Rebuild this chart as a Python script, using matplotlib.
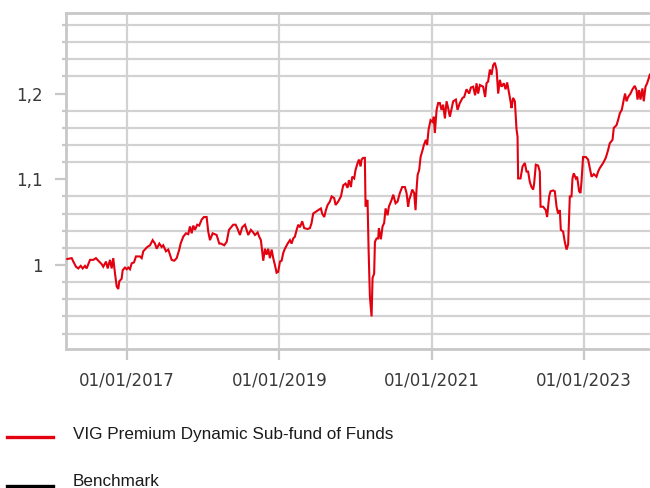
import matplotlib
matplotlib.use("Agg")
import matplotlib.pyplot as plt
from matplotlib.lines import Line2D
from matplotlib.ticker import MultipleLocator, FixedLocator, FuncFormatter
import numpy as np

# Time axis in decimal years, fund value (indexed)
years = [
    2016.217, 2016.275, 2016.296, 2016.331, 2016.361, 2016.393, 2016.419, 2016.449, 2016.471, 2016.515,
    2016.558, 2016.593, 2016.624, 2016.668, 2016.689, 2016.725, 2016.747, 2016.777, 2016.799, 2016.820,
    2016.843, 2016.865, 2016.886, 2016.899, 2016.930, 2016.944, 2016.974, 2016.996, 2017.017, 2017.039,
    2017.062, 2017.092, 2017.118, 2017.170, 2017.193, 2017.214, 2017.266, 2017.302, 2017.337, 2017.367,
    2017.390, 2017.424, 2017.455, 2017.476, 2017.511, 2017.542, 2017.586, 2017.620, 2017.652, 2017.686,
    2017.704, 2017.738, 2017.774, 2017.804, 2017.826, 2017.849, 2017.870, 2017.892, 2017.922, 2017.948,
    2017.980, 2018.010, 2018.045, 2018.066, 2018.089, 2018.124, 2018.176, 2018.211, 2018.233, 2018.276,
    2018.308, 2018.338, 2018.394, 2018.426, 2018.452, 2018.482, 2018.512, 2018.548, 2018.570, 2018.591,
    2018.626, 2018.656, 2018.679, 2018.714, 2018.735, 2018.757, 2018.788, 2018.810, 2018.832, 2018.853,
    2018.875, 2018.898, 2018.919, 2018.941, 2018.963, 2018.984, 2019.007, 2019.029, 2019.050, 2019.072,
    2019.108, 2019.138, 2019.160, 2019.181, 2019.203, 2019.226, 2019.247, 2019.269, 2019.299, 2019.325,
    2019.370, 2019.400, 2019.422, 2019.443, 2019.475, 2019.509, 2019.544, 2019.561, 2019.588, 2019.610,
    2019.632, 2019.662, 2019.685, 2019.719, 2019.737, 2019.771, 2019.807, 2019.837, 2019.868, 2019.894,
    2019.912, 2019.938, 2019.955, 2019.981, 2019.999, 2020.026, 2020.043, 2020.065, 2020.078, 2020.099,
    2020.121, 2020.130, 2020.156, 2020.170, 2020.187, 2020.209, 2020.222, 2020.243, 2020.253, 2020.275,
    2020.296, 2020.305, 2020.331, 2020.353, 2020.374, 2020.393, 2020.419, 2020.436, 2020.472, 2020.493,
    2020.524, 2020.550, 2020.580, 2020.611, 2020.646, 2020.668, 2020.689, 2020.702, 2020.725, 2020.742,
    2020.768, 2020.786, 2020.799, 2020.813, 2020.834, 2020.852, 2020.878, 2020.895, 2020.921, 2020.938,
    2020.957, 2020.983, 2021.009, 2021.026, 2021.039, 2021.062, 2021.083, 2021.105, 2021.127, 2021.148,
    2021.171, 2021.193, 2021.214, 2021.236, 2021.280, 2021.315, 2021.337, 2021.367, 2021.403, 2021.424,
    2021.455, 2021.489, 2021.512, 2021.542, 2021.568, 2021.586, 2021.607, 2021.630, 2021.673, 2021.699,
    2021.717, 2021.738, 2021.761, 2021.783, 2021.804, 2021.826, 2021.849, 2021.870, 2021.892, 2021.914,
    2021.944, 2021.967, 2021.988, 2022.014, 2022.032, 2022.045, 2022.066, 2022.089, 2022.111, 2022.124,
    2022.132, 2022.163, 2022.190, 2022.220, 2022.242, 2022.263, 2022.285, 2022.307, 2022.329, 2022.342,
    2022.364, 2022.394, 2022.416, 2022.426, 2022.460, 2022.495, 2022.512, 2022.539, 2022.557, 2022.591,
    2022.613, 2022.636, 2022.656, 2022.679, 2022.692, 2022.722, 2022.744, 2022.767, 2022.788, 2022.810,
    2022.832, 2022.845, 2022.862, 2022.889, 2022.906, 2022.932, 2022.950, 2022.963, 2022.984, 2023.020,
    2023.050, 2023.072, 2023.095, 2023.125, 2023.160, 2023.181, 2023.203, 2023.247, 2023.282, 2023.312,
    2023.334, 2023.370, 2023.387, 2023.422, 2023.443, 2023.466, 2023.492, 2023.518, 2023.535, 2023.554,
    2023.575, 2023.606, 2023.632, 2023.662, 2023.685, 2023.698, 2023.719, 2023.737, 2023.763, 2023.780,
    2023.803, 2023.824, 2023.846, 2023.859,
]
fund = [
    1.007, 1.008, 1.004, 0.998, 0.996, 0.999, 0.996, 0.999, 0.996, 1.006,
    1.006, 1.008, 1.005, 1.001, 0.998, 1.004, 0.996, 1.006, 0.996, 1.008,
    0.990, 0.975, 0.972, 0.981, 0.984, 0.994, 0.997, 0.995, 0.997, 0.995,
    1.002, 1.003, 1.010, 1.010, 1.008, 1.016, 1.021, 1.023, 1.029, 1.025,
    1.019, 1.025, 1.021, 1.023, 1.016, 1.018, 1.006, 1.005, 1.008, 1.018,
    1.025, 1.033, 1.037, 1.036, 1.045, 1.037, 1.046, 1.041, 1.047, 1.046,
    1.053, 1.056, 1.056, 1.039, 1.029, 1.037, 1.035, 1.025, 1.025, 1.023,
    1.027, 1.041, 1.047, 1.047, 1.042, 1.035, 1.044, 1.047, 1.041, 1.035,
    1.041, 1.038, 1.035, 1.038, 1.033, 1.029, 1.005, 1.019, 1.012, 1.019,
    1.008, 1.018, 1.008, 1.000, 0.991, 0.992, 1.004, 1.005, 1.014, 1.019,
    1.025, 1.029, 1.025, 1.031, 1.033, 1.041, 1.047, 1.044, 1.051, 1.043,
    1.042, 1.043, 1.049, 1.060, 1.062, 1.064, 1.066, 1.060, 1.056, 1.064,
    1.070, 1.074, 1.080, 1.078, 1.070, 1.074, 1.080, 1.093, 1.095, 1.090,
    1.099, 1.091, 1.103, 1.101, 1.111, 1.119, 1.123, 1.115, 1.123, 1.125,
    1.125, 1.068, 1.076, 1.018, 0.963, 0.940, 0.985, 0.990, 1.027, 1.031,
    1.031, 1.043, 1.030, 1.045, 1.049, 1.066, 1.058, 1.068, 1.076, 1.082,
    1.072, 1.074, 1.084, 1.091, 1.091, 1.084, 1.068, 1.076, 1.082, 1.088,
    1.084, 1.064, 1.088, 1.105, 1.111, 1.126, 1.134, 1.140, 1.146, 1.140,
    1.158, 1.169, 1.167, 1.173, 1.154, 1.181, 1.189, 1.189, 1.181, 1.187,
    1.171, 1.191, 1.183, 1.173, 1.191, 1.193, 1.181, 1.189, 1.195, 1.196,
    1.205, 1.200, 1.207, 1.208, 1.198, 1.212, 1.200, 1.210, 1.208, 1.196,
    1.212, 1.214, 1.228, 1.222, 1.233, 1.236, 1.228, 1.200, 1.216, 1.208,
    1.212, 1.205, 1.213, 1.200, 1.191, 1.183, 1.195, 1.191, 1.158, 1.150,
    1.101, 1.101, 1.115, 1.119, 1.109, 1.109, 1.097, 1.091, 1.088, 1.095,
    1.117, 1.116, 1.109, 1.068, 1.068, 1.064, 1.056, 1.080, 1.086, 1.087,
    1.086, 1.068, 1.060, 1.064, 1.041, 1.039, 1.027, 1.018, 1.024, 1.080,
    1.080, 1.101, 1.107, 1.101, 1.103, 1.086, 1.084, 1.097, 1.126, 1.126,
    1.123, 1.113, 1.103, 1.106, 1.103, 1.109, 1.113, 1.119, 1.125, 1.134,
    1.142, 1.146, 1.160, 1.163, 1.169, 1.177, 1.181, 1.193, 1.200, 1.191,
    1.196, 1.200, 1.205, 1.209, 1.204, 1.193, 1.204, 1.193, 1.206, 1.191,
    1.208, 1.212, 1.218, 1.222,
]

tick_years = [2017, 2019, 2021, 2023]
tick_labels = ["01/01/2017", "01/01/2019", "01/01/2021", "01/01/2023"]
y_major = [1.0, 1.1, 1.2]
series_names = ["VIG Premium Dynamic Sub-fund of Funds", "Benchmark"]

RED = "#e3000f"
GRID = "#d2d2d2"
TXT = "#3a3a3a"

fig = plt.figure(figsize=(6.5, 4.88), dpi=100)
ax = fig.add_axes([66/650, 1 - 349/488, 1 - 66/650, (349 - 13)/488])

ax.plot(years, fund, color=RED, lw=1.5, solid_joinstyle="miter", zorder=3)

ax.set_xlim(2016.200, 2023.862)
ax.set_ylim(0.902, 1.294)

ax.xaxis.set_major_locator(FixedLocator(tick_years))
ax.set_xticklabels(tick_labels)
ax.yaxis.set_major_locator(FixedLocator(y_major))
ax.yaxis.set_major_formatter(FuncFormatter(lambda v, p: f"{v:g}".replace(".", ",")))
ax.yaxis.set_minor_locator(MultipleLocator(0.02))

ax.grid(True, axis="x", which="major", color=GRID, lw=1.6)
ax.grid(True, axis="y", which="minor", color=GRID, lw=1.6)
ax.grid(False, axis="y", which="major")
ax.set_axisbelow(True)

ax.spines["right"].set_visible(False)
for s in ["left", "bottom", "top"]:
    ax.spines[s].set_color("#c8c8c8")
    ax.spines[s].set_linewidth(2.0)

ax.tick_params(axis="x", which="major", length=8, width=1.6, color="#c8c8c8",
               pad=8, labelsize=12, labelcolor=TXT)
ax.tick_params(axis="y", which="major", length=8, width=1.6, color="#c8c8c8",
               pad=9, labelsize=12, labelcolor=TXT)
ax.tick_params(axis="y", which="minor", length=3, width=1.6, color="#c8c8c8")

# Legend drawn below the plot
fig.add_artist(Line2D([7/650, 53/650], [1 - 437/488] * 2, color=RED, lw=2.4,
                      transform=fig.transFigure))
fig.add_artist(Line2D([7/650, 53/650], [1 - 485.5/488] * 2, color="black", lw=2.4,
                      transform=fig.transFigure))
fig.text(73/650, 1 - 439.5/488, series_names[0], fontsize=12.3, family="Liberation Sans",
         color="#1a1a1a", va="baseline", ha="left")
fig.text(73/650, 1 - 485.5/488, series_names[1], fontsize=12.3, family="Liberation Sans",
         color="#1a1a1a", va="baseline", ha="left")

fig.savefig("out.png", dpi=100)
